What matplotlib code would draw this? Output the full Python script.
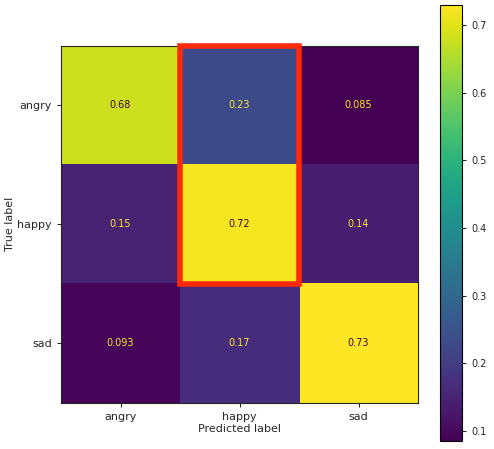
import numpy as np
import matplotlib.pyplot as plt
import seaborn as sns
from matplotlib.patches import Rectangle

sns.set_style("ticks")

labels = ["angry", "happy", "sad"]
cm = np.array([[0.68, 0.23, 0.085],
               [0.15, 0.72, 0.14],
               [0.093, 0.17, 0.73]])
cell_text = [["0.68", "0.23", "0.085"],
             ["0.15", "0.72", "0.14"],
             ["0.093", "0.17", "0.73"]]

fig = plt.figure(figsize=(4.94, 4.49), dpi=100)
ax = fig.add_axes([0.1235, 0.1024, 0.7227, 0.797])
cax = fig.add_axes([0.8907, 0.0178, 0.0445, 0.971])

cmap = plt.get_cmap("viridis")
im = ax.imshow(cm, cmap=cmap, interpolation="nearest")
thresh = (cm.max() + cm.min()) / 2
for i in range(3):
    for j in range(3):
        c = cmap(0.0) if cm[i, j] > thresh else cmap(1.0)
        ax.text(j, i, cell_text[i][j], ha="center", va="center", color=c, fontsize=7)

ax.set_xticks(range(3))
ax.set_yticks(range(3))
ax.set_xticklabels(labels, fontsize=8)
ax.set_yticklabels(labels, fontsize=8)
ax.set_xlabel("Predicted label", fontsize=8, labelpad=2)
ax.set_ylabel("True label", fontsize=8, labelpad=2)
ax.tick_params(length=3)

ax.add_patch(Rectangle((0.5, -0.5), 1.0, 2.0, fill=False, edgecolor="#ff2a0a",
                       linewidth=4, clip_on=False, zorder=5))

cb = fig.colorbar(im, cax=cax)
cb.ax.tick_params(labelsize=7, length=3)
cb.outline.set_edgecolor("black")

fig.savefig("out.png", dpi=100)
